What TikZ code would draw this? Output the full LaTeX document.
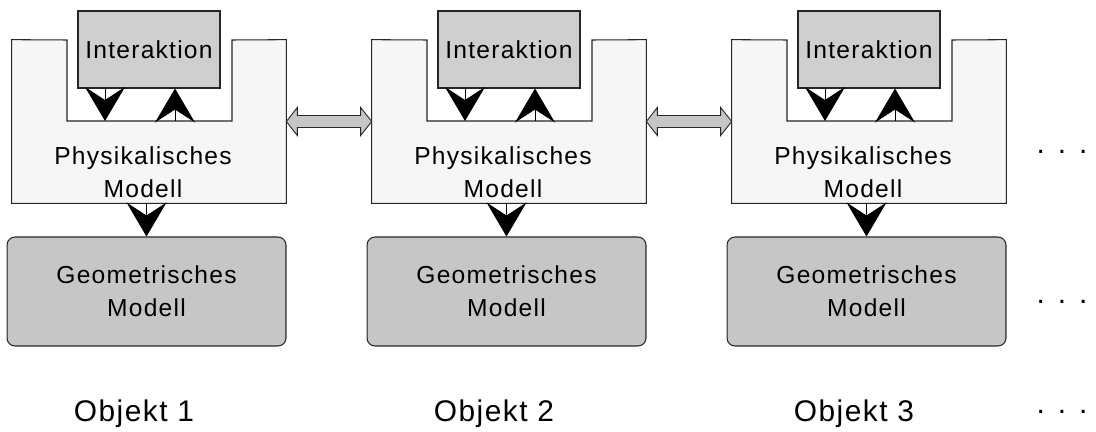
\documentclass[tikz,border=0pt]{standalone}
\usepackage{fontspec}
\setmainfont{Liberation Sans}[LetterSpace=5]
\usetikzlibrary{arrows.meta,calc}

\tikzset{
  physbox/.style={draw=black!85, line width=0.6pt, line join=miter, fill=gray!7},
  interbox/.style={draw=black!85, line width=0.6pt, fill=gray!38, minimum width=2.84cm, minimum height=1.54cm, font=\fontsize{14}{17}\selectfont},
  geobox/.style={draw=black!85, line width=0.6pt, fill=gray!45, rounded corners=0.16cm, minimum width=5.58cm, minimum height=2.18cm},
  modeltext/.style={align=center, font=\fontsize{14}{19}\selectfont},
  flow/.style={-{Stealth[length=0.68cm, width=0.8cm, inset=0.26cm]}, line width=0.5pt},
  swap/.style={draw=black!85, line width=0.5pt, fill=gray!45},
  objlabel/.style={font=\fontsize{17}{20}\selectfont},
}

\begin{document}
\begin{tikzpicture}[x=0.02cm, y=-0.02cm]
\useasboundingbox (0,0) rectangle (1096,432);

\foreach \i/\x in {1/0, 2/360, 3/720} {
  \begin{scope}[shift={(\x,0)}]
    % physical model (U shape)
    \node[minimum width=5.48cm, minimum height=3.26cm, inner sep=0pt] (phys\i) at (149,121.5) {};
    \draw[physbox] (phys\i.south west) -- (phys\i.north west) -- (67,40) -- (67,121)
      -- (232,121) -- (232,40) -- (phys\i.north east) -- (phys\i.south east) -- cycle;
    \node[modeltext] (physlabel\i) at (143,172) {Physikalisches\\Modell};

    \node[interbox] (inter\i) at (149,49.5) {Interaktion};
    \node[geobox, modeltext] (geo\i) at (146.5,291.5) {Geometrisches\\Modell};

    \coordinate (in\i) at (105,121);
    \coordinate (out\i) at (175,121);
    \draw[flow] (inter\i.south -| in\i) -- (in\i);
    \draw[flow] (out\i) -- (inter\i.south -| out\i);
    \draw[flow] (phys\i.south -| geo\i.north) -- (geo\i.north);

    \node[objlabel] (obj\i) at (134,414) {Objekt \i};
  \end{scope}
}

% exchange between neighbouring objects
\foreach \a/\b in {1/2, 2/3} {
  \draw[swap] (phys\a.east) -- ++(11,-14) -- ++(0,8) -- ($(phys\b.west)+(-11,-6)$)
    -- ++(0,-8) -- (phys\b.west) -- ++(-11,14) -- ++(0,-8)
    -- ($(phys\a.east)+(11,6)$) -- ++(0,8) -- cycle;
}

\node[objlabel] (more1) at (1062,152) {. . .};
\node[objlabel] (more2) at (1062,302) {. . .};
\node[objlabel] (more3) at (1062,412) {. . .};
\end{tikzpicture}
\end{document}
